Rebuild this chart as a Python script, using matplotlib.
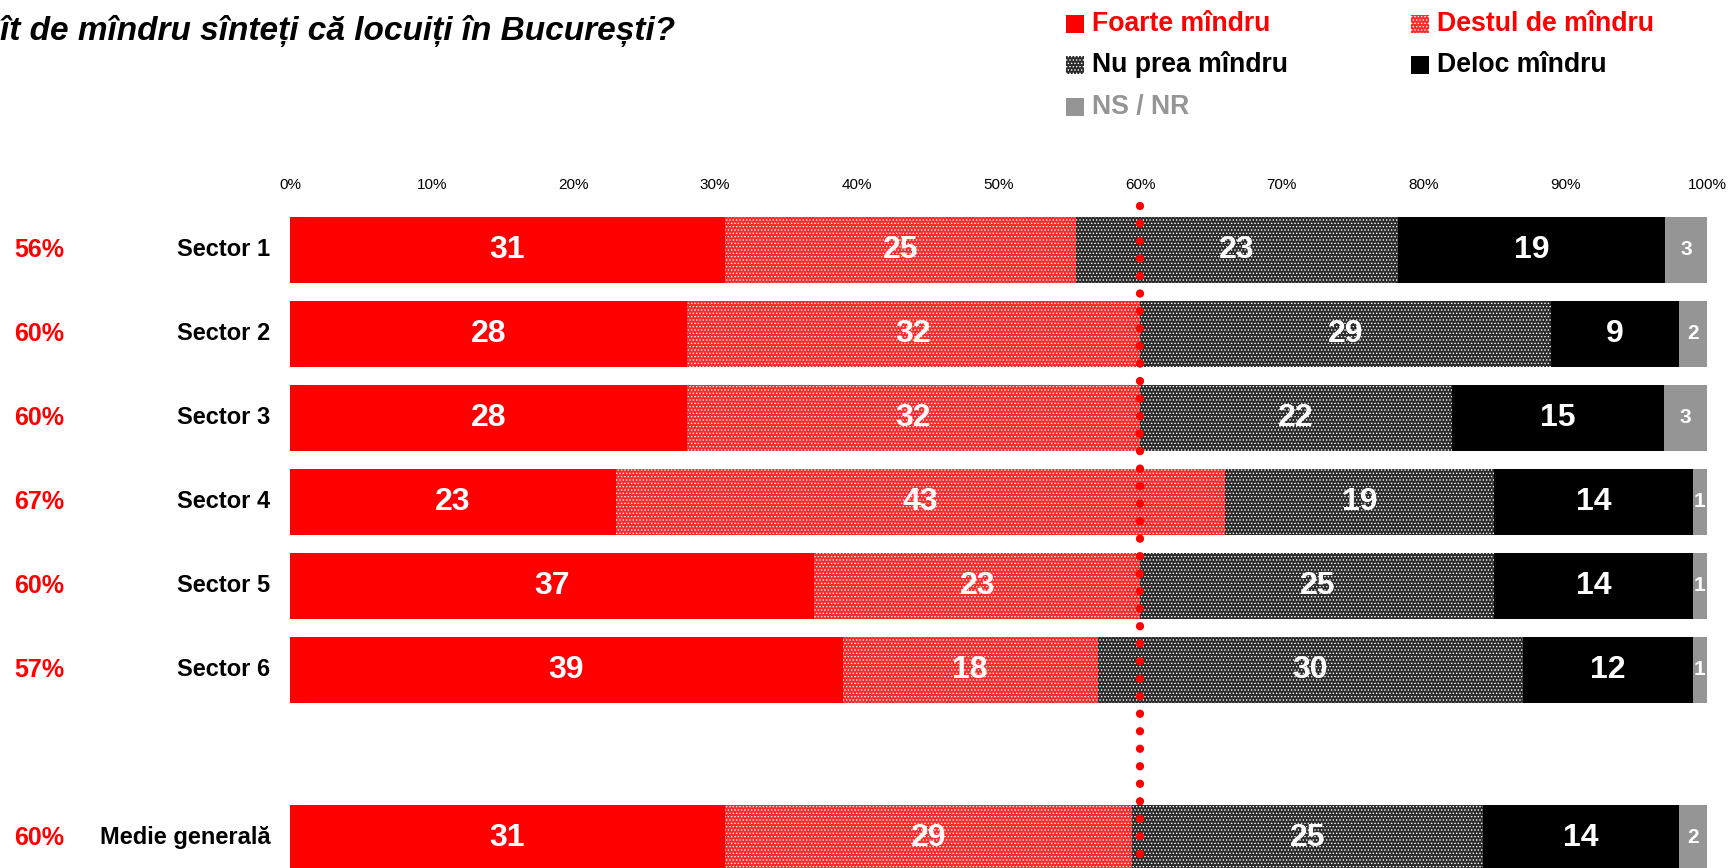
import numpy as np
import matplotlib
matplotlib.use("Agg")
import matplotlib.pyplot as plt
from matplotlib.patches import Rectangle
from matplotlib import font_manager

# Date
categorii = ["Sector 1", "Sector 2", "Sector 3", "Sector 4", "Sector 5", "Sector 6", "Medie generală"]
pozitii = [0, 1, 2, 3, 4, 5, 7]
foarte = [31, 28, 28, 23, 37, 39, 31]
destul = [25, 32, 32, 43, 23, 18, 29]
nu_prea = [23, 29, 22, 19, 25, 30, 25]
deloc = [19, 9, 15, 14, 14, 12, 14]
ns_nr = [3, 2, 3, 1, 1, 1, 2]
total_mindri = ["56%", "60%", "60%", "67%", "60%", "57%", "60%"]
serii = ["Foarte mîndru", "Destul de mîndru", "Nu prea mîndru", "Deloc mîndru", "NS / NR"]
titlu = "ît de mîndru sînteți că locuiți în București?"
ticks = [0, 10, 20, 30, 40, 50, 60, 70, 80, 90, 100]

# Fonturi
nume = {f.name for f in font_manager.fontManager.ttflist}
NORMAL = ["Liberation Sans", "DejaVu Sans"]
INGUST = (["Liberation Sans Narrow"] if "Liberation Sans Narrow" in nume else []) + NORMAL
plt.rcParams["font.family"] = NORMAL
plt.rcParams["hatch.linewidth"] = 0.6

culori = ["#ff0000", "#ff2a2a", "#2b2b2b", "#000000", "#959595"]
hatch = [None, ".....", ".....", None, None]

fig = plt.figure(figsize=(17.29, 8.68), dpi=100)
W, H = 1729, 868
ax = fig.add_axes([290 / W, 0, (1707 - 290) / W, 1 - 170 / H])

date = np.array([foarte, destul, nu_prea, deloc, ns_nr], dtype=float)
proc = date / date.sum(axis=0) * 100
stanga = np.zeros(len(categorii))
for i in range(5):
    ax.barh(pozitii, proc[i], left=stanga, height=0.79, color=culori[i],
            edgecolor="white" if hatch[i] else culori[i], linewidth=0,
            hatch=hatch[i], zorder=2)
    for j, p in enumerate(pozitii):
        c = stanga[j] + proc[i][j] / 2
        if i == 4:
            ax.text(c, p, str(int(date[i][j])), color="white", fontsize=15,
                    fontweight="bold", ha="center", va="center", zorder=4)
        else:
            fam = INGUST if i < 2 else NORMAL
            ax.text(c, p, str(int(date[i][j])), color="white", fontsize=23,
                    fontweight="bold", ha="center", va="center", family=fam, zorder=4)
    stanga = stanga + proc[i]

# linia de 60%
ax.plot([60, 60], [-0.52, 7.6], color="#ff0000", lw=6,
        linestyle=(0, (0.001, 2.1)), dash_capstyle="round", zorder=3, clip_on=False)

ax.set_xlim(0, 100)
ax.set_ylim(7.36, -0.95)
ax.set_xticks(ticks)
ax.set_xticklabels([f"{t}%" for t in ticks], fontsize=11)
ax.tick_params(axis="x", top=True, labeltop=True, bottom=False, labelbottom=False,
               length=0, pad=-16)
ax.set_yticks([])
for s in ax.spines.values():
    s.set_visible(False)

# etichete rânduri
for j, p in enumerate(pozitii):
    ax.text(-1.4, p, categorii[j], fontsize=17, fontweight="bold",
            ha="right", va="center")
    ax.text(-17.7, p, total_mindri[j], fontsize=18, fontweight="bold",
            color="#ff0000", ha="center", va="center")

# titlu
fig.text(0, 1 - 31 / H, titlu, fontsize=24, fontweight="bold", style="italic",
         family=INGUST, ha="left", va="center")

# legenda
leg_x = [1075, 1420, 1075, 1420, 1075]
leg_y = [24, 24, 65, 65, 107]
leg_text_culori = ["#ff0000", "#ff0000", "#000000", "#000000", "#959595"]
for i in range(5):
    x, y = leg_x[i], leg_y[i]
    fig.add_artist(Rectangle(((x - 9) / W, 1 - (y + 9) / H), 18 / W, 18 / H,
                             transform=fig.transFigure, facecolor=culori[i],
                             edgecolor="white" if hatch[i] else culori[i], linewidth=0,
                             hatch=hatch[i]))
    fig.text((x + 17) / W, 1 - y / H, serii[i], fontsize=19.2, fontweight="bold",
             color=leg_text_culori[i], ha="left", va="center")

fig.savefig("out.png", dpi=100)
